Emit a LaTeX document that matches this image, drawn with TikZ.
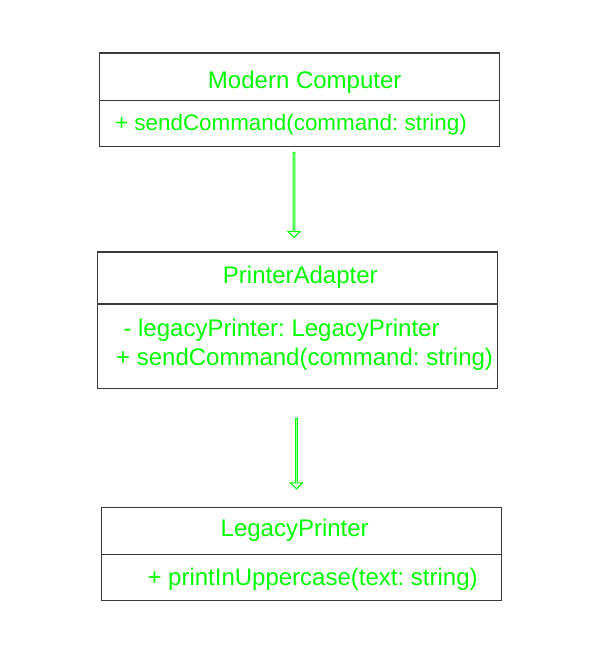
\documentclass[tikz,border=0pt]{standalone}
\usepackage{fontspec}
\setmainfont{Liberation Sans}
\usetikzlibrary{shapes.arrows}
\frenchspacing
\definecolor{umlgreen}{HTML}{00FF00}
\definecolor{umlline}{HTML}{3A3A3A}
\tikzset{
  classbox/.style={draw=umlline, line width=1.3pt, rectangle, inner sep=0pt, minimum width=400pt},
  divider/.style={draw=umlline, line width=1.3pt},
  label/.style={text=umlgreen, font=\fontsize{24}{28}\selectfont, inner sep=0pt},
  smalllabel/.style={label, font=\fontsize{22.4}{26}\selectfont},
  hollowarrow/.style={single arrow, draw=umlgreen, line width=1pt, fill=white,
    minimum width=12pt, single arrow head extend=3pt, single arrow head indent=0pt,
    inner sep=0pt, shape border rotate=270}
}
\begin{document}
\begin{tikzpicture}[x=1pt,y=-1pt]
\useasboundingbox (0,0) rectangle (597,646);
% class boxes
\node[classbox, minimum height=93.3pt] (c1) at (299.3,99.65) {};
\node[classbox, minimum height=136.3pt] (c2) at (297.7,320.15) {};
\node[classbox, minimum height=93.4pt] (c3) at (301.7,554.0) {};
% dividers
\coordinate (d1) at (0,100.3);
\coordinate (d2) at (0,304);
\coordinate (d3) at (0,554.3);
\draw[divider] (c1.west |- d1) -- (c1.east |- d1);
\draw[divider] (c2.west |- d2) -- (c2.east |- d2);
\draw[divider] (c3.west |- d3) -- (c3.east |- d3);
% texts
\node[label, anchor=base] (t1) at (304.7,88.7) {Modern Computer};
\node[smalllabel, anchor=base west] (m1) at (115,130) {+ sendCommand(command: string)};
\node[label, anchor=base] (t2) at (300.3,283.3) {PrinterAdapter};
\node[label, anchor=base west] (a2) at (123.3,336) {- legacyPrinter: LegacyPrinter};
\node[label, anchor=base west] (m2) at (116,365) {+ sendCommand(command: string)};
\node[label, anchor=base] (t3) at (294.7,536.7) {LegacyPrinter};
\node[label, anchor=base west] (m3) at (147.3,585) {+ printInUppercase(text: string)};
% arrows
\node[hollowarrow, minimum height=85pt] (ar1) at (294,194.5) {};
\node[hollowarrow, minimum height=70.5pt] (ar2) at (296.5,453.2) {};
\end{tikzpicture}
\end{document}
